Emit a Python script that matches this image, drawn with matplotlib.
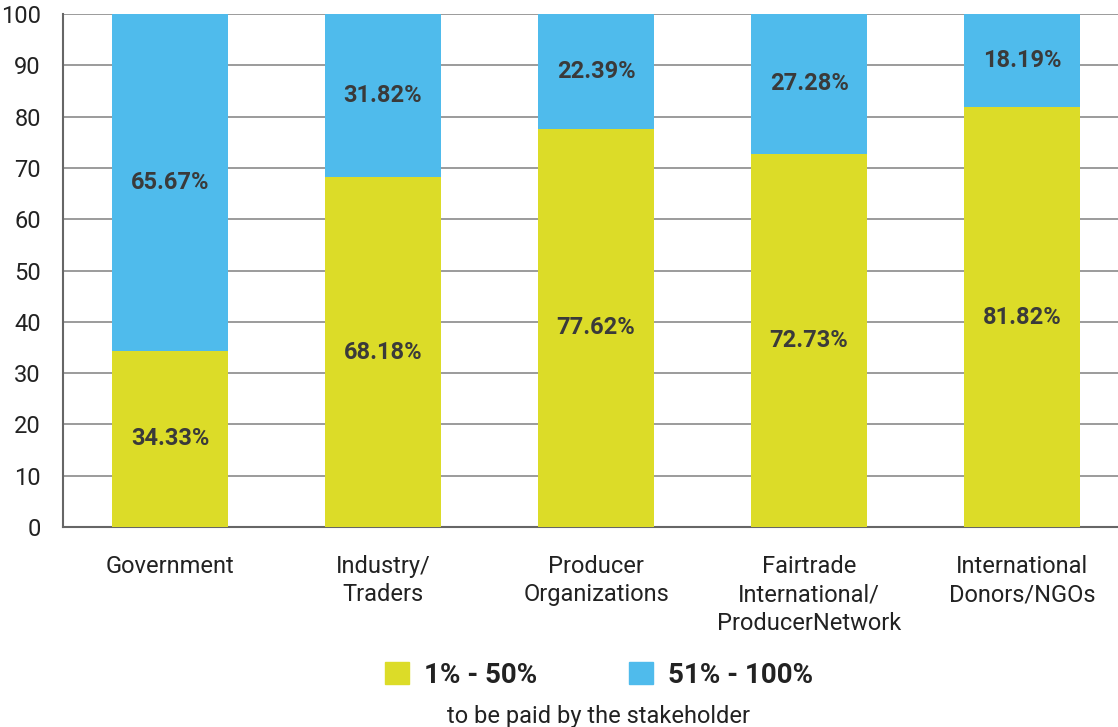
import matplotlib
matplotlib.use('Agg')
import matplotlib.pyplot as plt
from matplotlib.patches import Patch

plt.rcParams['font.family'] = ['Roboto', 'DejaVu Sans']

# Data
categories = ['Government', 'Industry/\nTraders', 'Producer\nOrganizations',
              'Fairtrade\nInternational/\nProducerNetwork', 'International\nDonors/NGOs']
low_share = [34.33, 68.18, 77.62, 72.73, 81.82]    # 1% - 50%
high_share = [65.67, 31.82, 22.39, 27.28, 18.19]   # 51% - 100%
legend_labels = ['1% - 50%', '51% - 100%']

yellow = '#dcdc28'
blue = '#4fbbec'
text_col = '#3a3a3a'

fig = plt.figure(figsize=(11.18, 7.27), dpi=100)
ax = fig.add_axes([0.0564, 0.2751, 0.9436, 0.7056])

x = range(len(categories))
b1 = ax.bar(x, low_share, width=0.545, color=yellow, zorder=3)
b2 = ax.bar(x, high_share, bottom=low_share, width=0.545, color=blue, zorder=3)

# percentage labels centered in each segment
for i in x:
    ax.text(i, low_share[i] / 2, f'{low_share[i]:.2f}%', ha='center', va='center',
            fontsize=17, fontweight='bold', color=text_col, zorder=4)
    ax.text(i, low_share[i] + high_share[i] / 2, f'{high_share[i]:.2f}%', ha='center',
            va='center', fontsize=17, fontweight='bold', color=text_col, zorder=4)

ax.set_ylim(0, 100)
ax.set_xlim(-0.502, 4.45)
ax.set_yticks(range(0, 101, 10))
ax.yaxis.grid(True, color='#8a8a8a', linewidth=1.2, zorder=0)
ax.set_xticks(list(x))
ax.set_xticklabels(categories, fontsize=17, color='#222222', linespacing=1.3)
ax.tick_params(axis='y', labelsize=17, labelcolor='#222222', length=0, pad=16)
ax.tick_params(axis='x', length=0, pad=20)
for s in ['top', 'right']:
    ax.spines[s].set_visible(False)
ax.spines['left'].set_color('#666666')
ax.spines['bottom'].set_color('#666666')
ax.spines['left'].set_linewidth(1.5)
ax.spines['bottom'].set_linewidth(1.5)

handles = [Patch(color=yellow), Patch(color=blue)]
fig.legend(handles, legend_labels, loc='center', bbox_to_anchor=(0.536, 0.071), ncol=2,
           frameon=False, prop={'size': 20, 'weight': 'bold'}, handlelength=0.85,
           handleheight=0.85, columnspacing=3.3, handletextpad=0.55, labelcolor='#222222')
fig.text(0.535, 0.014, 'to be paid by the stakeholder', ha='center', va='center',
         fontsize=17, color='#222222')

fig.savefig('out.png', dpi=100)
